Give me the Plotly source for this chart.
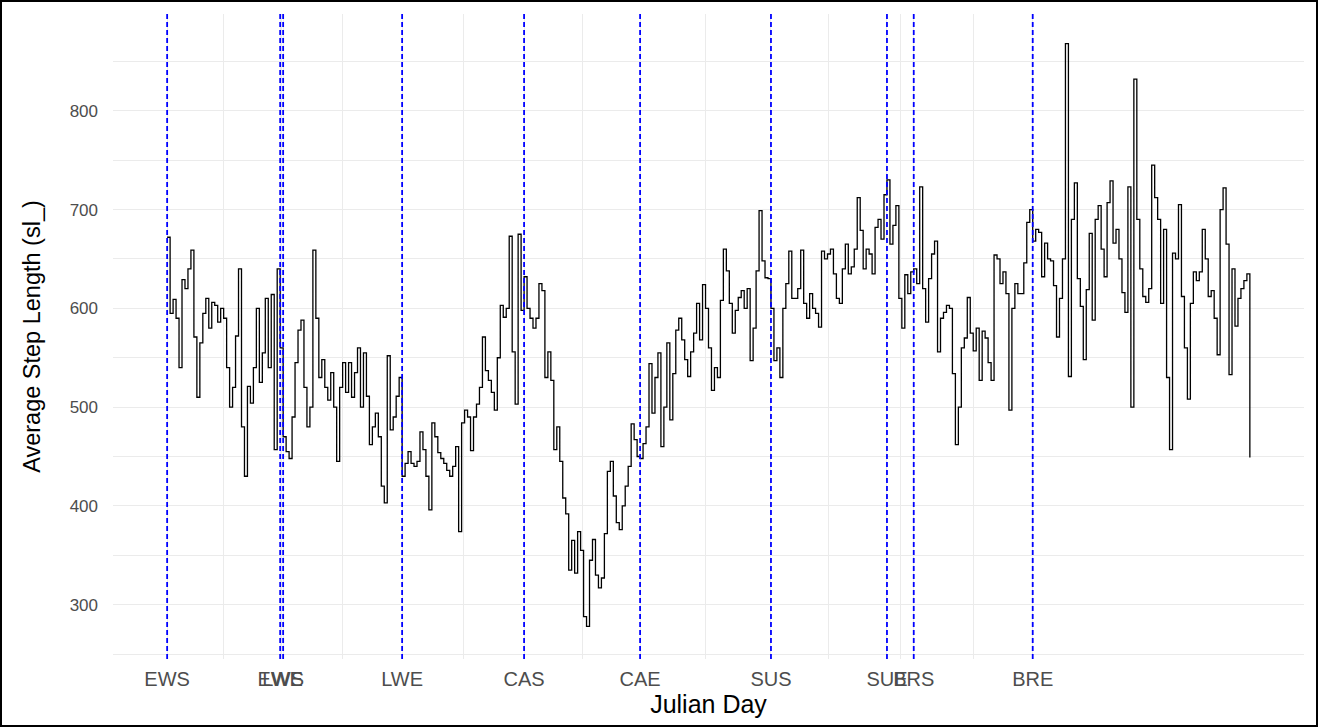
import plotly.graph_objects as go

# ---------------- data ----------------
julian_day = list(range(365))

step_len = [
    672, 595, 609, 590, 540, 629, 620, 640, 659, 571,
    510, 565, 595, 610, 580, 606, 603, 586, 600, 590,
    540, 500, 520, 572, 640, 480, 430, 521, 504, 540,
    600, 525, 555, 610, 540, 614, 457, 640, 560, 470,
    455, 448, 490, 545, 578, 588, 520, 480, 500, 659,
    590, 530, 548, 520, 507, 535, 500, 445, 520, 545,
    515, 545, 510, 535, 560, 500, 555, 511, 462, 480,
    494, 470, 420, 403, 552, 477, 490, 511, 530, 430,
    443, 455, 443, 440, 445, 475, 457, 430, 396, 484,
    470, 454, 448, 443, 436, 430, 440, 460, 374, 484,
    497, 490, 456, 490, 503, 520, 571, 537, 527, 515,
    497, 550, 603, 591, 600, 673, 556, 503, 675, 598,
    632, 600, 590, 580, 590, 625, 618, 530, 556, 527,
    457, 480, 445, 408, 392, 335, 365, 332, 374, 355,
    288, 278, 345, 366, 330, 317, 327, 372, 435, 445,
    410, 383, 376, 400, 420, 440, 483, 467, 450, 448,
    463, 480, 544, 494, 530, 555, 460, 500, 565, 487,
    534, 578, 590, 568, 548, 531, 556, 575, 605, 568,
    624, 600, 560, 517, 540, 530, 608, 660, 638, 605,
    575, 598, 611, 618, 600, 620, 547, 580, 638, 699,
    648, 631, 630, 600, 547, 560, 530, 600, 625, 658,
    610, 610, 620, 659, 605, 590, 615, 600, 595, 581,
    658, 650, 655, 660, 635, 610, 605, 640, 665, 635,
    642, 660, 712, 679, 640, 660, 655, 635, 682, 690,
    670, 715, 730, 665, 684, 704, 610, 580, 634, 615,
    637, 640, 625, 723, 620, 586, 630, 655, 668, 556,
    590, 596, 603, 600, 534, 462, 500, 560, 570, 611,
    575, 557, 580, 527, 577, 570, 545, 527, 654, 650,
    625, 637, 615, 497, 600, 625, 615, 615, 646, 687,
    700, 668, 680, 677, 632, 666, 650, 648, 623, 571,
    610, 650, 868, 531, 690, 727, 630, 602, 548, 619,
    676, 588, 690, 704, 660, 632, 707, 729, 666, 680,
    650, 616, 596, 723, 500, 832, 690, 640, 612, 606,
    620, 745, 712, 690, 605, 680, 530, 457, 656, 650,
    705, 612, 560, 508, 605, 637, 628, 637, 680, 650,
    612, 618, 590, 553, 700, 722, 665, 533, 640, 582,
    610, 620, 628, 635, 449,
]

break_days = [0, 38, 39, 79, 120, 159, 203, 242, 251, 291]
break_labels = ["EWS", "EWE", "LWS", "LWE", "CAS", "CAE", "SUS", "SUE", "BRS", "BRE"]

y_ticks = [300, 400, 500, 600, 700, 800]

# ---------------- figure ----------------
fig = go.Figure()
fig.add_trace(go.Scatter(
    x=julian_day, y=step_len, mode="lines",
    line=dict(color="black", width=1.3, shape="hv"),
    showlegend=False, hoverinfo="skip",
))

for d in break_days:
    fig.add_shape(type="line", x0=d, x1=d, xref="x", y0=0, y1=1, yref="paper",
                  line=dict(color="#0000FF", width=1.8, dash="5px,3px"), layer="above")

minor_x = [(a + b) / 2 for a, b in zip(break_days[:-1], break_days[1:])]

grid = "#EBEBEB"
ml, mr, mt, mb = 113, 14, 14, 68
W, H = 1318, 727
pw, ph = W - ml - mr, H - mt - mb

fig.add_shape(type="rect", xref="paper", yref="paper",
              x0=(1 - ml) / pw, x1=(W - 1 - ml) / pw,
              y0=-(mb - 1) / ph, y1=1 + (mt - 1) / ph,
              line=dict(color="black", width=2), fillcolor="rgba(0,0,0,0)", layer="above")

fig.update_layout(
    width=W, height=H,
    margin=dict(l=ml, r=mr, t=mt, b=mb),
    paper_bgcolor="white", plot_bgcolor="white",
    font=dict(family="Liberation Sans, Arial, sans-serif"),
    xaxis=dict(
        range=[-18.2, 382.2], tickmode="array", tickvals=break_days, ticktext=break_labels,
        tickangle=0, showgrid=True, gridcolor=grid, gridwidth=1.3, zeroline=False,
        ticks="", showline=False, ticklabelstandoff=6,
        tickfont=dict(size=20, color="#4D4D4D"),
        minor=dict(tickmode="array", tickvals=minor_x, showgrid=True, gridcolor=grid, gridwidth=1.0),
        title=dict(text="Julian Day", font=dict(size=25, color="black"), standoff=0),
    ),
    yaxis=dict(
        range=[245, 898], tickmode="array", tickvals=y_ticks,
        showgrid=True, gridcolor=grid, gridwidth=1.3, zeroline=False,
        ticks="", showline=False, ticklabelstandoff=14,
        tickfont=dict(size=17, color="#4D4D4D"),
        minor=dict(tickmode="array", tickvals=[250, 350, 450, 550, 650, 750, 850],
                   showgrid=True, gridcolor=grid, gridwidth=1.0),
        title=dict(text="Average Step Length (sl_)", font=dict(size=23.5, color="black"), standoff=22),
    ),
)

fig.write_html(
    "out.html",
    config={"displayModeBar": False},
    post_script="document.body.style.margin='0px'; document.body.style.overflow='hidden';",
)
